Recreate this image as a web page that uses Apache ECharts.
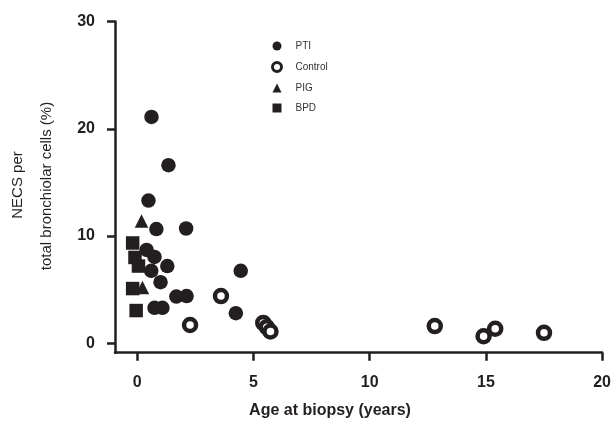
<!DOCTYPE html>
<html>
<head>
<meta charset="utf-8">
<script src="https://cdn.jsdelivr.net/npm/echarts@6/dist/echarts.min.js"></script>
<style>html,body{margin:0;padding:0;background:#fff}#c{width:614px;height:427px}</style>
</head>
<body>
<div id="c"></div>
<script>
// Data: [age (years), NECS %]
const ptiData = [
  [0.61, 21.1], [1.34, 16.6], [0.48, 13.3], [0.82, 10.65], [2.1, 10.7],
  [0.4, 8.7], [0.74, 8.05], [1.29, 7.2], [0.6, 6.75], [1.0, 5.7],
  [4.45, 6.75], [1.68, 4.35], [2.12, 4.4], [0.74, 3.3], [1.08, 3.3], [4.24, 2.8]
];
const controlData = [
  [2.27, 1.7], [3.6, 4.4], [5.42, 1.9], [5.57, 1.5], [5.73, 1.1],
  [12.8, 1.6], [14.9, 0.65], [15.4, 1.35], [17.5, 0.97]
];
const pigData = [[0.18, 11.4], [0.22, 5.2]];
const bpdData = [[-0.2, 9.35], [-0.1, 8.0], [0.05, 7.2], [-0.2, 5.1], [-0.05, 3.05]];
const xTicks = [0, 5, 10, 15, 20];
const yTicks = [0, 10, 20, 30];
const seriesNames = ['PTI', 'Control', 'PIG', 'BPD'];
const xTitle = 'Age at biopsy (years)';
const yTitle1 = 'NECS per';
const yTitle2 = 'total bronchiolar cells (%)';

const ink = '#231f20';
const chart = echarts.init(document.getElementById('c'), null, {renderer: 'canvas'});
const axisCommon = {
  axisLine: {show: true, onZero: false, lineStyle: {color: ink, width: 2.5}},
  axisTick: {show: true, inside: false, length: 8, lineStyle: {color: ink, width: 2.5}},
  splitLine: {show: false},
  axisLabel: {color: ink, fontSize: 16, fontWeight: 'bold', fontFamily: 'Liberation Sans, Arial, sans-serif'}
};
chart.setOption({
  animation: false,
  backgroundColor: '#fff',
  grid: {left: 115, right: 7.3, top: 21.5, bottom: 74.3, containLabel: false},
  xAxis: Object.assign({}, axisCommon, {
    type: 'value', min: -0.96, max: 20,
    axisTick: Object.assign({}, axisCommon.axisTick, {customValues: xTicks}),
    axisLabel: Object.assign({}, axisCommon.axisLabel, {customValues: xTicks, margin: 22})
  }),
  yAxis: Object.assign({}, axisCommon, {
    type: 'value', min: -0.88, max: 30,
    axisTick: Object.assign({}, axisCommon.axisTick, {customValues: yTicks}),
    axisLabel: Object.assign({}, axisCommon.axisLabel, {customValues: yTicks, margin: 20})
  }),
  legend: {
    orient: 'vertical', left: 266, top: 36, padding: 5, itemWidth: 9, itemHeight: 9, itemGap: 10,
    textStyle: {color: '#333', fontSize: 10, fontFamily: 'Liberation Sans, Arial, sans-serif', padding: [0, 0, 0, 9]},
    data: [
      {name: seriesNames[0], icon: 'circle', itemStyle: {color: ink}},
      {name: seriesNames[1], icon: 'circle', itemStyle: {color: '#fff', borderColor: ink, borderWidth: 3}},
      {name: seriesNames[2], icon: 'triangle', itemStyle: {color: ink}},
      {name: seriesNames[3], icon: 'rect', itemStyle: {color: ink}}
    ]
  },
  series: [
    {name: seriesNames[0], type: 'scatter', symbol: 'circle', symbolSize: 14.5, data: ptiData,
     itemStyle: {color: ink, opacity: 1}},
    {name: seriesNames[2], type: 'scatter', symbol: 'triangle', symbolSize: 13.5, data: pigData,
     itemStyle: {color: ink, opacity: 1}},
    {name: seriesNames[3], type: 'scatter', symbol: 'rect', symbolSize: 13.5, data: bpdData,
     itemStyle: {color: ink, opacity: 1}},
    {name: seriesNames[1], type: 'scatter', symbol: 'circle', symbolSize: 12, data: controlData,
     itemStyle: {color: '#fff', borderColor: ink, borderWidth: 4.5, opacity: 1}}
  ],
  graphic: [
    {type: 'text', x: 330, y: 411, style: {text: xTitle, fill: ink, font: 'bold 16px "Liberation Sans", Arial, sans-serif', align: 'center', verticalAlign: 'middle'}},
    {type: 'text', x: 18, y: 185, rotation: Math.PI / 2, style: {text: yTitle1, fill: ink, font: '15px "Liberation Sans", Arial, sans-serif', align: 'center', verticalAlign: 'middle'}},
    {type: 'text', x: 47, y: 186, rotation: Math.PI / 2, style: {text: yTitle2, fill: ink, font: '15px "Liberation Sans", Arial, sans-serif', align: 'center', verticalAlign: 'middle'}}
  ]
});
</script>
</body>
</html>
